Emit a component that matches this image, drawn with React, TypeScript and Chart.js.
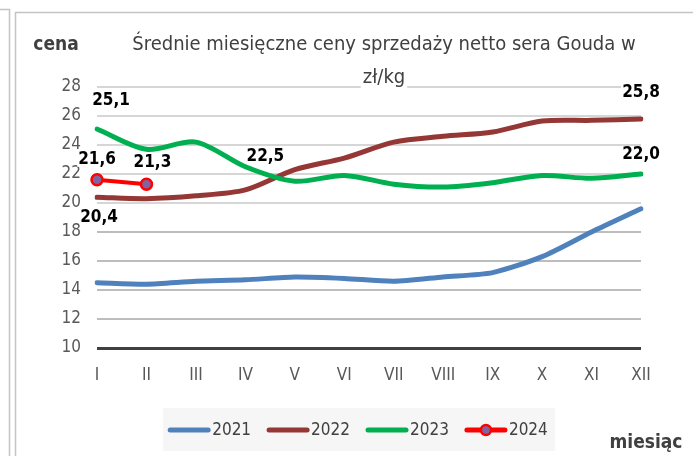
import React, { useEffect, useRef } from "react";
import { Chart, registerables } from "chart.js";

Chart.register(...registerables);

// ---- data ----
const months = ["I", "II", "III", "IV", "V", "VI", "VII", "VIII", "IX", "X", "XI", "XII"];
const values2021 = [14.5, 14.4, 14.6, 14.7, 14.9, 14.8, 14.6, 14.9, 15.2, 16.3, 18.0, 19.6];
const values2022 = [20.4, 20.3, 20.5, 20.9, 22.3, 23.1, 24.2, 24.6, 24.9, 25.65, 25.7, 25.8];
const values2023 = [25.1, 23.7, 24.2, 22.5, 21.5, 21.9, 21.3, 21.1, 21.4, 21.9, 21.7, 22.0];
const values2024 = [21.6, 21.3];
const seriesNames = ["2021", "2022", "2023", "2024"];
const yMin = 10;
const yMax = 28;
const yStep = 2;
const titleLines = ["Średnie miesięczne ceny sprzedaży netto sera Gouda w", "zł/kg"];
const yAxisName = "cena";
const xAxisName = "miesiąc";

// labelled points: [datasetIndex, pointIndex, dx, dy]
const labelledPoints: [number, number, number, number][] = [
  [2, 0, 14, -28],
  [3, 0, 0, -20],
  [3, 1, 6, -22],
  [1, 0, 2, 20],
  [2, 3, 20, -10],
  [1, 11, 0, -26],
  [2, 11, 0, -19],
];

const FONT = "'Liberation Sans Narrow', 'DejaVu Sans Condensed', Roboto, sans-serif";

const fmt = (v: number) => v.toFixed(1).replace(".", ",");

const decorPlugin = {
  id: "decor",
  beforeDraw(chart: any) {
    const ctx = chart.ctx;
    ctx.save();
    ctx.fillStyle = "#ffffff";
    ctx.fillRect(0, 0, chart.width, chart.height);
    ctx.strokeStyle = "#c4c4c4";
    ctx.lineWidth = 1.5;
    ctx.beginPath();
    ctx.moveTo(0, 9.5);
    ctx.lineTo(9.5, 9.5);
    ctx.lineTo(9.5, chart.height);
    ctx.stroke();
    ctx.beginPath();
    ctx.moveTo(15.5, chart.height);
    ctx.lineTo(15.5, 12.5);
    ctx.lineTo(chart.width, 12.5);
    ctx.stroke();
    ctx.restore();
  },
  afterDraw(chart: any) {
    const ctx = chart.ctx;
    const area = chart.chartArea;
    ctx.save();
    ctx.textBaseline = "middle";
    ctx.textAlign = "center";

    // title with white background
    ctx.font = `20px ${FONT}`;
    const cx = (area.left + area.right) / 2 + 15;
    const ty = [45, 78];
    titleLines.forEach((t, i) => {
      const w = ctx.measureText(t).width;
      ctx.fillStyle = "#ffffff";
      ctx.fillRect(cx - w / 2 - 2, ty[i] - 10, w + 4, 20);
      ctx.fillStyle = "#404040";
      ctx.fillText(t, cx, ty[i]);
    });

    // axis names
    ctx.font = `bold 19px ${FONT}`;
    ctx.fillStyle = "#404040";
    ctx.fillText(yAxisName, 56, 45);
    ctx.fillText(xAxisName, 646, 443);

    // data labels
    ctx.font = `bold 17px ${FONT}`;
    labelledPoints.forEach(([di, pi, dx, dy]) => {
      const el = chart.getDatasetMeta(di).data[pi];
      const v = chart.data.datasets[di].data[pi];
      if (!el || v == null) return;
      const t = fmt(v);
      const x = el.x + dx;
      const y = el.y + dy;
      const w = ctx.measureText(t).width;
      ctx.fillStyle = "#ffffff";
      ctx.fillRect(x - w / 2 - 1, y - 7, w + 2, 14);
      ctx.fillStyle = "#000000";
      ctx.fillText(t, x, y);
    });

    // legend
    const boxL = 163, boxR = 555, boxT = 408, boxB = 451;
    ctx.fillStyle = "#f6f6f6";
    ctx.fillRect(boxL, boxT, boxR - boxL, boxB - boxT);
    ctx.font = `17px ${FONT}`;
    const lineLen = 38;
    const gapText = 4;
    const gapItem = 18;
    const ds = chart.data.datasets;
    let total = 0;
    ds.forEach((d: any, i: number) => {
      total += lineLen + gapText + ctx.measureText(d.label).width + (i < ds.length - 1 ? gapItem : 0);
    });
    let x = (boxL + boxR) / 2 - total / 2;
    const ly = 430;
    ds.forEach((d: any) => {
      ctx.strokeStyle = d.borderColor;
      ctx.lineWidth = 5;
      ctx.lineCap = "round";
      ctx.beginPath();
      ctx.moveTo(x, ly);
      ctx.lineTo(x + lineLen, ly);
      ctx.stroke();
      if (d.pointRadius > 0) {
        ctx.beginPath();
        ctx.arc(x + lineLen / 2, ly, 5, 0, Math.PI * 2);
        ctx.fillStyle = d.pointBackgroundColor;
        ctx.fill();
        ctx.lineWidth = 2.5;
        ctx.strokeStyle = d.pointBorderColor;
        ctx.stroke();
      }
      x += lineLen + gapText;
      ctx.textAlign = "left";
      ctx.fillStyle = "#404040";
      ctx.fillText(d.label, x, ly + 1);
      x += ctx.measureText(d.label).width + gapItem;
    });
    ctx.restore();
  },
};

export default function App() {
  const ref = useRef<HTMLCanvasElement | null>(null);

  useEffect(() => {
    if (!ref.current) return;
    const chart = new Chart(ref.current, {
      type: "line",
      data: {
        labels: months,
        datasets: [
          {
            label: seriesNames[0],
            data: values2021,
            borderColor: "#4F81BD",
            borderWidth: 5,
            pointRadius: 0,
            tension: 0.25,
            borderCapStyle: "round",
            order: 3,
          },
          {
            label: seriesNames[1],
            data: values2022,
            borderColor: "#953735",
            borderWidth: 5,
            pointRadius: 0,
            tension: 0.3,
            borderCapStyle: "round",
            order: 2,
          },
          {
            label: seriesNames[2],
            data: values2023,
            borderColor: "#00B050",
            borderWidth: 5,
            pointRadius: 0,
            tension: 0.3,
            borderCapStyle: "round",
            order: 1,
          },
          {
            label: seriesNames[3],
            data: values2024,
            borderColor: "#FF0000",
            borderWidth: 4,
            pointRadius: 5.5,
            pointBorderWidth: 2.5,
            pointBorderColor: "#FF0000",
            pointBackgroundColor: "#8064A2",
            tension: 0,
            order: 0,
          },
        ],
      },
      options: {
        responsive: false,
        devicePixelRatio: 1,
        animation: false,
        layout: { padding: { top: 87, right: 52, bottom: 68, left: 0 } },
        plugins: {
          legend: { display: false },
          title: { display: false },
          tooltip: { enabled: false },
        },
        scales: {
          x: {
            type: "category",
            grid: { display: false, drawTicks: false },
            border: { display: false },
            ticks: {
              color: "#595959",
              font: { family: FONT, size: 17 },
              padding: 17,
              maxRotation: 0,
              autoSkip: false,
            },
            afterFit: (s: any) => {
              s.height = 40;
            },
          },
          y: {
            min: yMin,
            max: yMax,
            grid: {
              drawTicks: false,
              color: (c: any) =>
                c.tick && c.tick.value === yMin ? "#404040" : c.tick && c.tick.value < 20 ? "#bdbdbd" : "#d6d6d6",
              lineWidth: (c: any) => (c.tick && c.tick.value === yMin ? 3 : 2),
            },
            border: { display: false },
            ticks: {
              stepSize: yStep,
              color: "#595959",
              font: { family: FONT, size: 17 },
              padding: 16,
            },
            afterFit: (s: any) => {
              s.width = 97;
            },
          },
        },
      },
      plugins: [decorPlugin],
    } as any);
    return () => chart.destroy();
  }, []);

  return (
    <div style={{ position: "fixed", left: 0, top: 0, width: 693, height: 456 }}>
      <canvas ref={ref} width={693} height={456} style={{ display: "block" }} />
    </div>
  );
}
